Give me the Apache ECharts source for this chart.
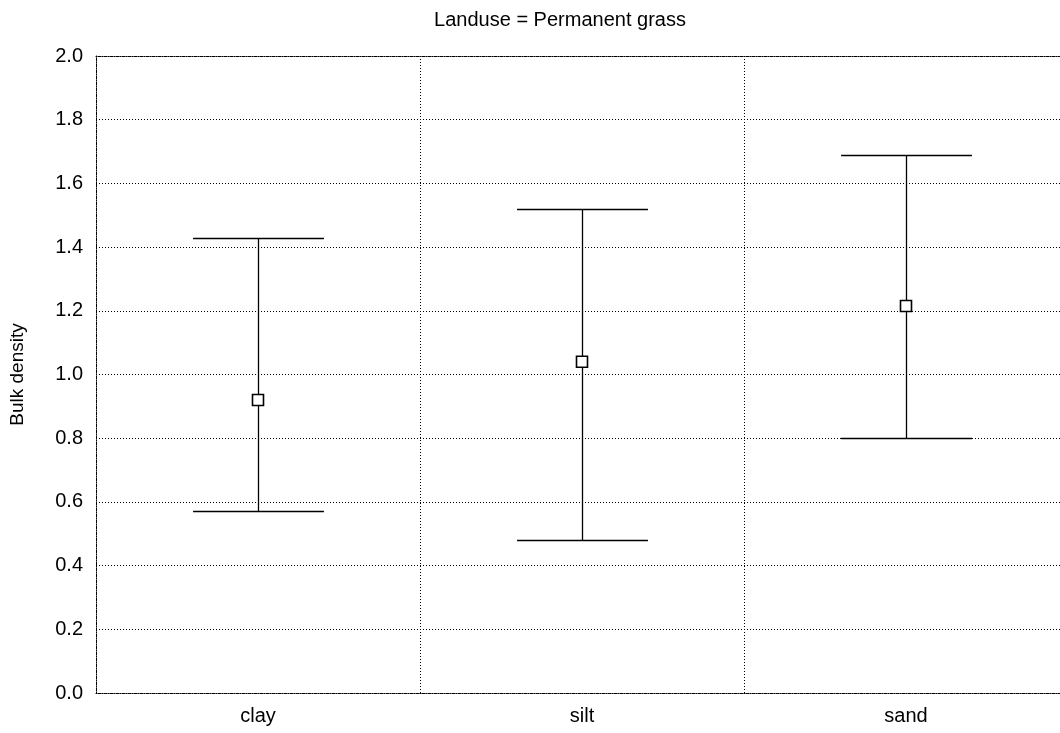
<!DOCTYPE html>
<html>
<head>
<meta charset="utf-8">
<script src="https://cdn.jsdelivr.net/npm/echarts@6/dist/echarts.min.js"></script>
<style>
html,body{margin:0;padding:0;background:#fff;}
#chart{width:1060px;height:733px;}
</style>
</head>
<body>
<div id="chart"></div>
<script>
var titleText = 'Landuse = Permanent grass';
var yAxisName = 'Bulk density';
var categories = ['clay', 'silt', 'sand'];
var means = [0.92, 1.04, 1.215];
var upper = [1.43, 1.52, 1.69];
var lower = [0.57, 0.48, 0.80];

var FONT = '"Liberation Sans", Arial, sans-serif';
var chart = echarts.init(document.getElementById('chart'), null, {renderer: 'canvas'});

var barData = categories.map(function (c, i) { return [i, lower[i], upper[i]]; });
var meanData = categories.map(function (c, i) { return [i, means[i]]; });

var option = {
  animation: false,
  backgroundColor: '#fff',
  graphic: [{
    type: 'text',
    x: 560,
    y: 10,
    style: {
      text: titleText,
      fill: '#000',
      font: '20px ' + FONT,
      textAlign: 'center',
      textVerticalAlign: 'top'
    }
  }],
  grid: {left: 96, top: 56, width: 972, bottom: 40, containLabel: false, outerBoundsMode: 'none'},
  xAxis: [{
    type: 'category',
    data: categories,
    boundaryGap: true,
    position: 'bottom',
    axisLine: {show: true, lineStyle: {color: '#000', width: 1, type: [1, 1]}},
    axisTick: {show: false},
    axisLabel: {color: '#000', fontSize: 20, fontFamily: FONT, margin: 13},
    splitLine: {show: true, lineStyle: {color: '#000', width: 1, type: [1, 2]}}
  }, {
    type: 'category',
    data: categories,
    position: 'top',
    axisLine: {show: true, lineStyle: {color: '#000', width: 1, type: [1, 1]}},
    axisTick: {show: false},
    axisLabel: {show: false},
    splitLine: {show: false}
  }],
  yAxis: {
    type: 'value',
    min: 0,
    max: 2,
    interval: 0.2,
    name: yAxisName,
    nameLocation: 'middle',
    nameGap: 69,
    nameTextStyle: {color: '#000', fontSize: 19, fontFamily: FONT},
    axisLine: {show: true, lineStyle: {color: '#000', width: 1, type: [1, 1]}},
    axisTick: {show: false},
    axisLabel: {
      color: '#000', fontSize: 20, fontFamily: FONT, margin: 13,
      formatter: function (v) { return v.toFixed(1); }
    },
    splitLine: {show: true, lineStyle: {color: '#000', width: 1, type: [1, 2]}}
  },
  series: [{
    type: 'custom',
    data: barData,
    z: 3,
    renderItem: function (params, api) {
      var x = api.value(0);
      var lo = api.coord([x, api.value(1)]);
      var hi = api.coord([x, api.value(2)]);
      var band = api.size([1, 0])[0];
      var half = band * 0.202;
      var cx = Math.round(lo[0]) + 0.5;
      var yl = Math.round(lo[1]) + 0.5;
      var yh = Math.round(hi[1]) + 0.5;
      var st = {stroke: '#000', lineWidth: 1.3};
      return {
        type: 'group',
        children: [
          {type: 'line', shape: {x1: cx, y1: yl, x2: cx, y2: yh}, style: st},
          {type: 'line', shape: {x1: cx - half, y1: yh, x2: cx + half, y2: yh}, style: st},
          {type: 'line', shape: {x1: cx - half, y1: yl, x2: cx + half, y2: yl}, style: st}
        ]
      };
    }
  }, {
    type: 'scatter',
    data: meanData,
    z: 5,
    symbol: 'rect',
    symbolSize: 11,
    itemStyle: {color: '#fff', borderColor: '#000', borderWidth: 1.6, opacity: 1}
  }]
};
chart.setOption(option);
</script>
</body>
</html>
